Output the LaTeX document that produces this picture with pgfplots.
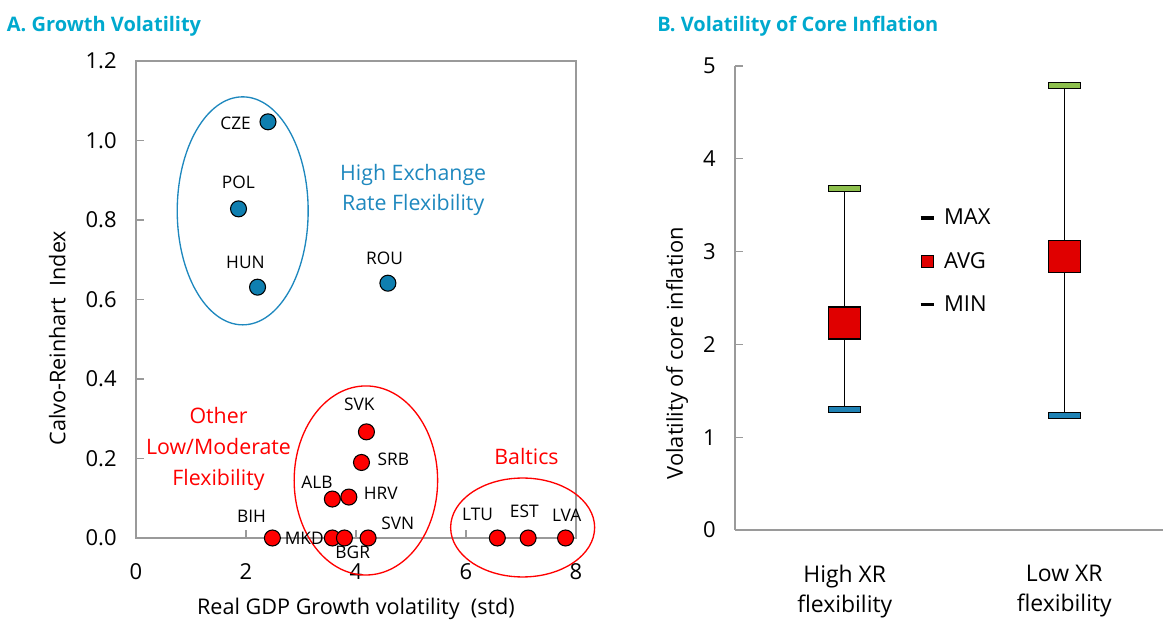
\documentclass[border=0pt]{standalone}
\usepackage{fontspec}
\setmainfont{Open Sans}
\usepackage{pgfplots}
\pgfplotsset{compat=1.18}
\definecolor{titlecol}{HTML}{00A9CE}
\definecolor{ptblue}{HTML}{0F7FB0}
\definecolor{ellblue}{HTML}{1E88BE}
\definecolor{axgray}{HTML}{9A9A9A}
\definecolor{maxgreen}{HTML}{8DBF4D}
\definecolor{minblue}{HTML}{1F82B4}
\definecolor{avgred}{HTML}{E00000}
\definecolor{ptred}{HTML}{FF0000}
\begin{document}
\begin{tikzpicture}
\path[use as bounding box] (0,0) rectangle (873.75pt,465pt);
\node[anchor=base west, inner sep=0pt, text=titlecol, font=\bfseries\fontsize{15}{18}\selectfont] at (5pt,441.5pt) {A. Growth Volatility};
\node[anchor=base west, inner sep=0pt, text=titlecol, font=\bfseries\fontsize{15}{18}\selectfont] at (492.75pt,441.5pt) {B. Volatility of Core Inflation};

% ---------------- Panel A ----------------
\begin{axis}[
  at={(102pt,61.5pt)}, anchor=south west,
  width=330pt, height=357.75pt, scale only axis,
  xmin=0, xmax=8, ymin=0, ymax=1.2,
  xtick={0,2,4,6,8}, ytick={0,0.2,0.4,0.6,0.8,1.0,1.2},
  axis line style={axgray, line width=1pt},
  tick style={axgray, line width=0.8pt},
  major tick length=6pt, tick align=inside,
  xtick pos=bottom, ytick pos=left,
  /pgf/number format/assume math mode=true,
  ticklabel style={font=\fontsize{16.5}{19}\selectfont},
  yticklabel style={/pgf/number format/.cd, fixed, fixed zerofill, precision=1, /tikz/.cd, xshift=-11pt},
  xticklabel style={yshift=-16pt},
  xlabel={Real GDP Growth volatility\ \ (std)},
  ylabel={Calvo-Reinhart\ \ Index},
  label style={font=\fontsize{16.2}{19}\selectfont},
  xlabel style={at={(axis description cs:0.5,-0.149)}, anchor=center},
  ylabel style={at={(axis description cs:-0.179,0.419)}, anchor=center},
  clip=false,
]
\draw[ellblue, line width=1pt] (axis cs:1.94,0.823) ellipse [x radius=49.1pt, y radius=85.5pt];
\draw[ptred, line width=1pt] (axis cs:4.18,0.1447) ellipse [x radius=53.8pt, y radius=70.9pt];
\draw[ptred, line width=1pt] (axis cs:7.03,0.0264) ellipse [x radius=54pt, y radius=37.1pt];

\node[align=center, text=ellblue, font=\fontsize{16}{22.5}\selectfont] at (axis cs:5.04,0.875) {High Exchange\\Rate Flexibility};
\node[align=center, text=ptred, font=\fontsize{16}{22.9}\selectfont] at (axis cs:1.50,0.224) {Other\\Low/Moderate\\Flexibility};
\node[text=ptred, font=\fontsize{16}{19}\selectfont] at (axis cs:7.10,0.205) {Baltics};

\begin{scope}[every node/.style={font=\fontsize{13}{15}\selectfont, inner sep=0pt}]
\node at (axis cs:1.81,1.042) {CZE};
\node at (axis cs:1.86,0.894) {POL};
\node at (axis cs:1.99,0.693) {HUN};
\node at (axis cs:4.52,0.703) {ROU};
\node at (axis cs:4.06,0.337) {SVK};
\node at (axis cs:4.68,0.199) {SRB};
\node at (axis cs:3.29,0.139) {ALB};
\node at (axis cs:4.45,0.112) {HRV};
\node at (axis cs:2.10,0.054) {BIH};
\node at (axis cs:3.06,-0.001) {MKD};
\node at (axis cs:3.94,-0.036) {BGR};
\node at (axis cs:4.76,0.037) {SVN};
\node at (axis cs:6.21,0.060) {LTU};
\node at (axis cs:7.06,0.066) {EST};
\node at (axis cs:7.83,0.058) {LVA};
\end{scope}

\addplot[only marks, mark=*, mark size=6pt, mark options={fill=ptblue, draw=black, line width=0.8pt}]
  coordinates {(2.40,1.047) (1.864,0.828) (2.21,0.631) (4.58,0.641)};
\addplot[only marks, mark=*, mark size=6pt, mark options={fill=ptred, draw=black, line width=0.8pt}]
  coordinates {(4.19,0.267) (4.10,0.190) (3.57,0.098) (3.87,0.103)
               (2.48,0) (3.57,0) (3.79,0) (4.22,0)
               (6.57,0) (7.13,0) (7.81,0)};
\end{axis}

% ---------------- Panel B ----------------
\begin{axis}[
  at={(551.25pt,67.5pt)}, anchor=south west,
  width=321pt, height=348pt, scale only axis,
  xmin=-0.5, xmax=1.45, ymin=0, ymax=5,
  axis x line=bottom, axis y line=left,
  axis line style={axgray, line width=1pt, -},
  xtick={0,1}, xticklabels={{High XR\\flexibility},{Low XR\\flexibility}},
  xtick style={draw=none},
  ytick={0,1,2,3,4,5},
  ytick style={axgray, line width=0.8pt},
  major tick length=6pt, tick align=inside,
  /pgf/number format/assume math mode=true,
  yticklabel style={font=\fontsize{16.5}{19}\selectfont, xshift=-11pt},
  xticklabel style={align=center, font=\fontsize{17.2}{22.5}\selectfont, yshift=-23pt},
  ylabel={Volatility of core inflation},
  ylabel style={font=\fontsize{16.4}{19}\selectfont, at={(axis description cs:-0.1355,0.381)}, anchor=center},
  clip=false,
  legend style={at={(axis description cs:0.429,0.698)}, anchor=north west, draw=none, fill=none,
    font=\fontsize{16.5}{20}\selectfont, row sep=15pt, inner sep=0pt,
    /tikz/every odd column/.append style={column sep=4.5pt}},
  legend cell align=left,
]
\addplot[black, line width=1pt, forget plot] coordinates {(0,1.30) (0,3.68)};
\addplot[black, line width=1pt, forget plot] coordinates {(1,1.23) (1,4.79)};
\addplot[only marks, mark=square*, mark size=12pt,
  mark options={yscale=0.19, fill=maxgreen, draw=black, line width=0.9pt},
  legend image code/.code={\draw[black, line width=2.6pt] (0pt,0pt) -- (9.75pt,0pt);}]
  coordinates {(0,3.68) (1,4.79)};
\addlegendentry{MAX}
\addplot[only marks, mark=square*, mark size=12pt,
  mark options={fill=avgred, draw=black, line width=0.9pt},
  legend image code/.code={\draw[black, fill=avgred, line width=0.8pt] (0.4pt,-4.5pt) rectangle (9.4pt,4.5pt);}]
  coordinates {(0,2.23) (1,2.95)};
\addlegendentry{AVG}
\addplot[only marks, mark=square*, mark size=12pt,
  mark options={yscale=0.19, fill=minblue, draw=black, line width=0.9pt},
  legend image code/.code={\draw[black, line width=2.6pt] (0pt,0pt) -- (9.75pt,0pt);}]
  coordinates {(0,1.30) (1,1.23)};
\addlegendentry{MIN}
\end{axis}
\end{tikzpicture}
\end{document}
